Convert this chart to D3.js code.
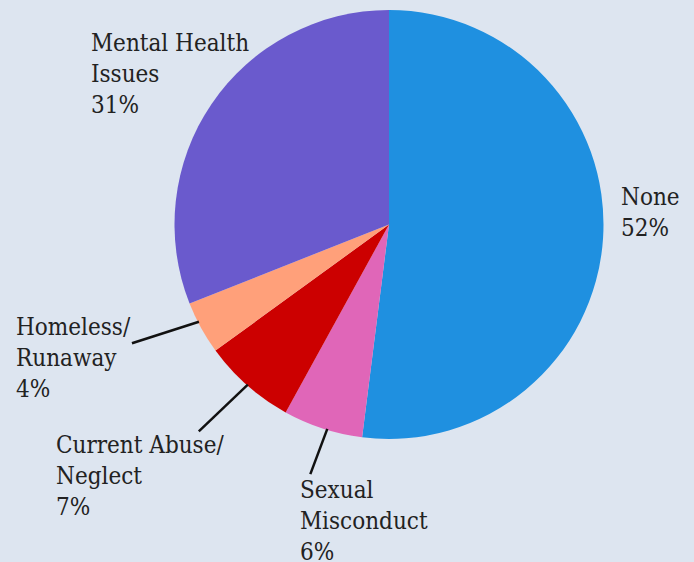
<!DOCTYPE html>
<html>
<head>
<meta charset="utf-8">
<script src="https://cdn.jsdelivr.net/npm/d3@7"></script>
<style>
  html, body { margin: 0; padding: 0; background: #dde5f0; }
  svg { display: block; }
</style>
</head>
<body>
<svg id="chart" width="694" height="562"></svg>
<script>
// Reasons for placement, share of cases (%)
const categories = ["None", "Sexual Misconduct", "Current Abuse/Neglect", "Homeless/Runaway", "Mental Health Issues"];
const values = [52, 6, 7, 4, 31];
const labelLines = [["None"], ["Sexual", "Misconduct"], ["Current Abuse/", "Neglect"], ["Homeless/", "Runaway"], ["Mental Health", "Issues"]];
const colors = ["#1f90e0", "#e066b8", "#cc0000", "#ffa07a", "#6a5acd"];

const width = 694, height = 562;
const cx = 389, cy = 224.5, radius = 214.5;
const lineHeight = 31;
const fontStack = "'DejaVu Serif Condensed', 'DejaVu Serif', serif";

// Per-slice label layout: text anchor relative to pie centre, optional leader line
const layout = [
  { tx: 232, ty: -20, leader: null },
  { tx: -89, ty: 273, leader: { len: 1.22, nudge: -1.2, endNudge: -0.5 } },
  { tx: -333, ty: 228, leader: { len: 1.31, nudge: 0, endNudge: 1.2 } },
  { tx: -373, ty: 110, leader: { len: 1.32, nudge: 1.7, endNudge: 4 } },
  { tx: -298, ty: -174, leader: null }
];

const svg = d3.select("#chart");
const g = svg.append("g").attr("transform", `translate(${cx},${cy})`);

const pie = d3.pie().sort(null).value(d => d)(values);
const arc = d3.arc().innerRadius(0).outerRadius(radius);

g.selectAll("path.slice")
  .data(pie)
  .join("path")
  .attr("class", "slice")
  .attr("d", arc)
  .attr("fill", (d, i) => colors[i]);

const pointAt = (angle, r) => [Math.sin(angle) * r, -Math.cos(angle) * r];
const deg = Math.PI / 180;

// Leader lines
pie.forEach((d, i) => {
  const L = layout[i].leader;
  if (!L) return;
  const mid = (d.startAngle + d.endAngle) / 2;
  const p0 = pointAt(mid + L.nudge * deg, radius - 1);
  const p1 = pointAt(mid + L.endNudge * deg, radius * L.len);
  g.append("line")
    .attr("x1", p0[0]).attr("y1", p0[1])
    .attr("x2", p1[0]).attr("y2", p1[1])
    .attr("stroke", "#111")
    .attr("stroke-width", 2.5);
});

// Labels: name lines followed by the percentage
pie.forEach((d, i) => {
  const lines = labelLines[i].concat([d.data + "%"]);
  const t = g.append("text")
    .attr("x", layout[i].tx)
    .attr("y", layout[i].ty)
    .style("font-family", fontStack)
    .style("font-stretch", "condensed")
    .style("font-size", "24px")
    .style("fill", "#222");
  lines.forEach((ln, k) => {
    t.append("tspan")
      .attr("x", layout[i].tx)
      .attr("y", layout[i].ty + k * lineHeight)
      .text(ln);
  });
});
</script>
</body>
</html>
